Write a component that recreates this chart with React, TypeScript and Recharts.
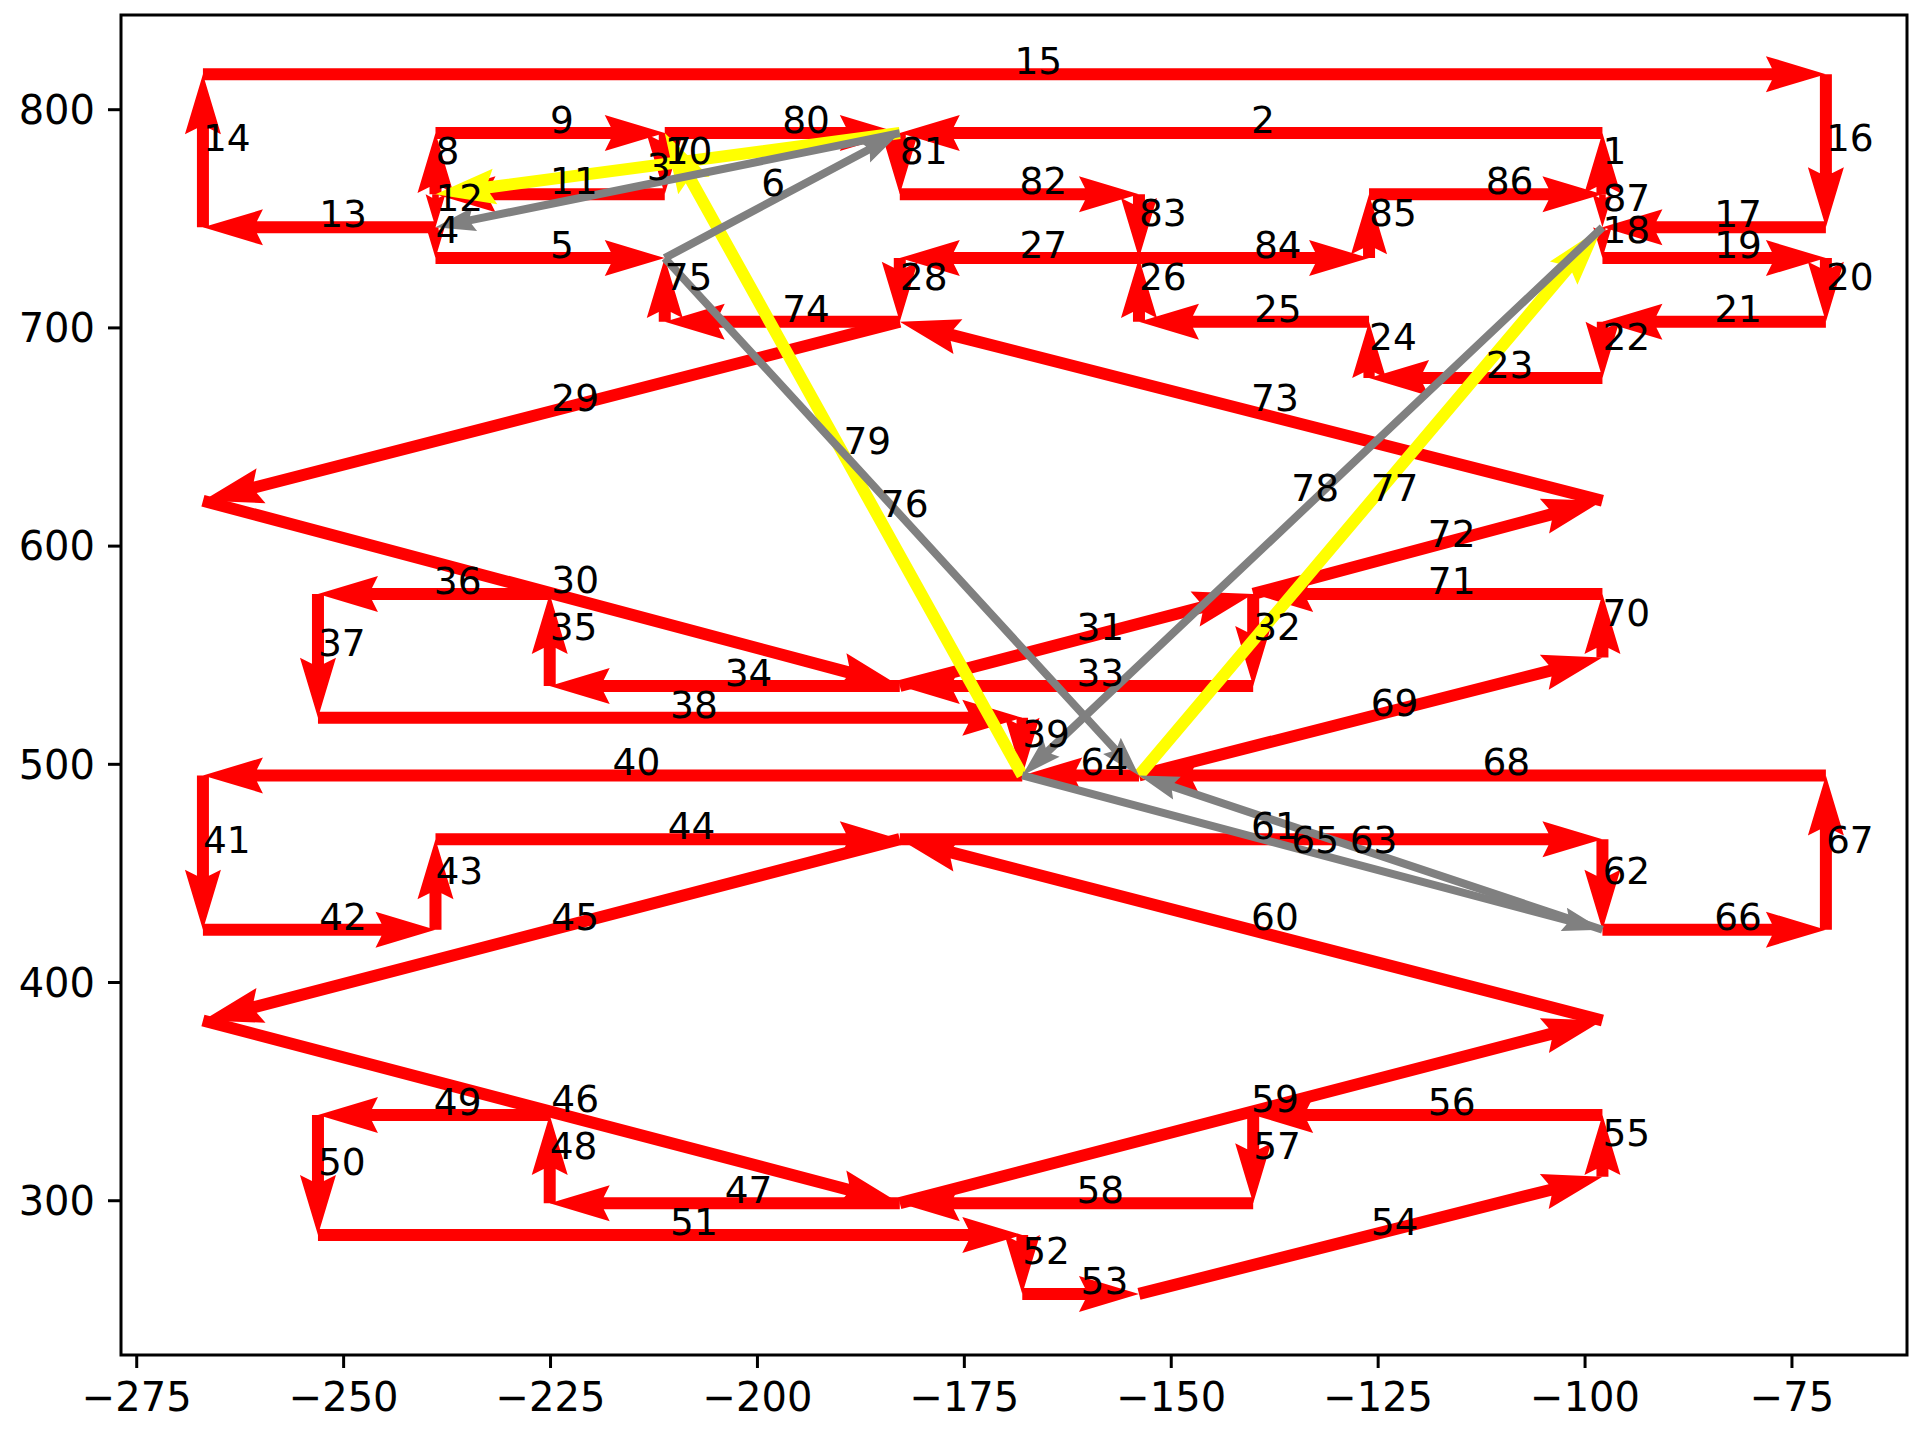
import React from 'react'
import { ScatterChart, Scatter, XAxis, YAxis, ReferenceLine, ReferenceArea } from 'recharts'

// path nodes p0..p87, arrow n goes from node n-1 to node n
const pathX = [
  -97.9, -97.9, -182.8, -238.9, -238.9, -211.2, -182.8, -238.9, -238.9, -211.2,
  -211.2, -238.9, -238.9, -267.0, -267.0, -70.9, -70.9, -97.9, -97.9, -70.9,
  -70.9, -97.9, -97.9, -126.1, -126.1, -153.9, -153.9, -182.8, -182.8, -267.0,
  -182.8, -140.1, -140.1, -182.8, -225.1, -225.1, -253.1, -253.1, -168.0, -168.0,
  -267.0, -267.0, -238.9, -238.9, -182.8, -267.0, -182.8, -225.1, -225.1, -253.1,
  -253.1, -168.0, -168.0, -153.9, -97.9, -97.9, -140.1, -140.1, -182.8, -97.9,
  -182.8, -97.9, -97.9, -153.9, -168.0, -97.9, -70.9, -70.9, -153.9, -97.9,
  -97.9, -140.1, -97.9, -182.8, -211.2, -211.2, -153.9, -97.9, -168.0, -211.2,
  -182.8, -182.8, -153.9, -153.9, -126.1, -126.1, -97.9, -97.9,
]
const pathY = [
  761.2, 789.3, 789.3, 746.1, 732.0, 732.0, 789.3, 761.2, 789.3, 789.3,
  761.2, 761.2, 746.1, 746.1, 816.3, 816.3, 746.1, 746.1, 732.0, 732.0,
  702.8, 702.8, 677.0, 677.0, 702.8, 702.8, 732.0, 732.0, 702.8, 620.8,
  535.9, 578.1, 535.9, 535.9, 535.9, 578.1, 578.1, 521.3, 521.3, 494.9,
  494.9, 424.2, 424.2, 465.7, 465.7, 382.6, 298.9, 298.9, 339.3, 339.3,
  284.3, 284.3, 257.3, 257.3, 311.0, 339.3, 339.3, 298.9, 298.9, 382.6,
  465.7, 465.7, 424.2, 494.9, 494.9, 424.2, 424.2, 494.9, 494.9, 549.0,
  578.1, 578.1, 620.8, 702.8, 702.8, 732.0, 494.9, 746.1, 494.9, 789.3,
  789.3, 761.2, 761.2, 732.0, 732.0, 761.2, 761.2, 746.1,
]
const grayArrows = [3, 6, 63, 65, 76, 78]
const yellowArrows = [7, 77, 79]

const xTicks = [-275, -250, -225, -200, -175, -150, -125, -100, -75]
const yTicks = [300, 400, 500, 600, 700, 800]
const xDomain = [-276.9, -61.1]
const yDomain = [229.3, 843.4]

const FONT = 'DejaVu Sans'
const fmt = (v: number) => (v < 0 ? '\u2212' + Math.abs(v) : String(v))

const arrows = pathX.slice(1).map((_, i) => {
  const n = i + 1
  const kind = grayArrows.includes(n) ? 'gray' : yellowArrows.includes(n) ? 'yellow' : 'red'
  return {
    n,
    kind,
    seg: [{ x: pathX[i], y: pathY[i] }, { x: pathX[n], y: pathY[n] }],
  }
})

const style: Record<string, { w: number; color: string }> = {
  red: { w: 12, color: '#ff0000' },
  yellow: { w: 12, color: '#ffff00' },
  gray: { w: 8, color: '#808080' },
}

// quiver-like arrow polygon, sizes in shaft widths
function quiverPoints(x1: number, y1: number, x2: number, y2: number, w: number) {
  const dx = x2 - x1, dy = y2 - y1
  const len = Math.hypot(dx, dy)
  const ux = dx / len, uy = dy / len
  const L = len / w
  let xs = [0, L - 4.5, L - 5, L]
  let ys = [0.5, 0.5, 1.5, 0]
  if (L < 5) {
    const s = L / 5
    xs = [0, 0.5 * s, 0, 5 * s]
    ys = ys.map(v => v * s)
  }
  const idx = [0, 1, 2, 3, 2, 1, 0]
  const sign = [1, 1, 1, 1, -1, -1, -1]
  return idx.map((k, j) => {
    const a = xs[k] * w, b = ys[k] * w * sign[j]
    return `${(x1 + ux * a - uy * b).toFixed(2)},${(y1 + uy * a + ux * b).toFixed(2)}`
  }).join(' ')
}

const arrowShape = (kind: string) => (p: any) => {
  const s = style[kind]
  return <polygon points={quiverPoints(p.x1, p.y1, p.x2, p.y2, s.w)} fill={s.color} stroke="none" />
}

const labelShape = (text: string, dx: number) => (p: any) => (
  <text x={(p.x1 + p.x2) / 2 + dx} y={(p.y1 + p.y2) / 2} fontSize={37.5} fontFamily={FONT} fill="#000">
    {text}
  </text>
)

const nodes = pathX.map((x, i) => ({ x, y: pathY[i] }))

export default function App() {
  const order = ['red', 'yellow', 'gray']
  return (
    <div style={{ position: 'absolute', left: 0, top: 0, background: '#fff' }}>
      <ScatterChart width={1920} height={1440} margin={{ top: 15, right: 13, bottom: 0, left: 0 }}>
        <XAxis
          type="number" dataKey="x" domain={xDomain} ticks={xTicks} allowDataOverflow
          tickFormatter={fmt} height={85} axisLine={false}
          tick={{ fill: '#000', fontSize: 40, fontFamily: FONT }}
          tickLine={{ stroke: '#000', strokeWidth: 3 }} tickSize={13} tickMargin={15}
        />
        <YAxis
          type="number" dataKey="y" domain={yDomain} ticks={yTicks} allowDataOverflow
          tickFormatter={fmt} width={121} axisLine={false}
          tick={{ fill: '#000', fontSize: 40, fontFamily: FONT }}
          tickLine={{ stroke: '#000', strokeWidth: 3 }} tickSize={13} tickMargin={13}
        />
        <Scatter data={nodes} isAnimationActive={false} shape={() => <g />} />
        {order.map(kind =>
          arrows.filter(a => a.kind === kind).map(a => (
            <ReferenceLine key={`a${a.n}`} segment={a.seg} shape={arrowShape(kind)} />
          ))
        )}
        {arrows.map(a => (
          <ReferenceLine key={`l${a.n}`} segment={a.seg} shape={labelShape(String(a.n), a.kind === 'gray' ? -21 : 0)} />
        ))}
        <ReferenceArea
          x1={xDomain[0]} x2={xDomain[1]} y1={yDomain[0]} y2={yDomain[1]}
          fill="none" stroke="#000" strokeWidth={3} fillOpacity={0}
        />
      </ScatterChart>
    </div>
  )
}
